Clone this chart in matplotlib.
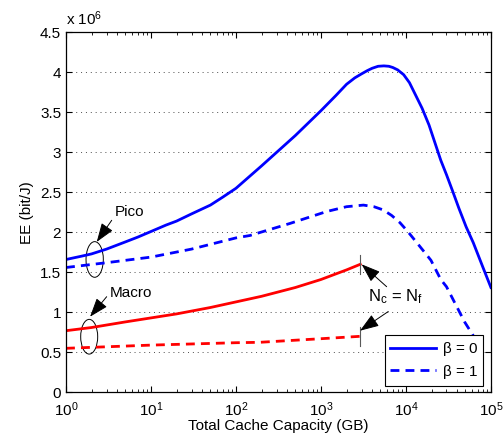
import numpy as np
import matplotlib
matplotlib.use('Agg')
import matplotlib.pyplot as plt
from matplotlib.patches import Ellipse

plt.rcParams['font.family'] = ['Liberation Sans', 'DejaVu Sans']
plt.rcParams['mathtext.fontset'] = 'custom'
plt.rcParams['mathtext.rm'] = 'Liberation Sans'
plt.rcParams['mathtext.it'] = 'Liberation Sans'
fs = 11

# EE values in units of 1e6 bit/J
pico_b0_x = [1, 1.5, 2, 3, 5, 7, 10, 15, 20, 30, 50, 70, 100, 200, 500, 1000, 1500,
             2000, 2500, 3000, 3500, 4000, 4700, 5500, 6300, 7000, 8000, 9400, 11000,
             13200, 15500, 18700, 25700, 30000, 35000, 42000, 51000, 62000, 80000, 100000]
pico_b0_y = [1.66, 1.70, 1.73, 1.79, 1.88, 1.94, 2.01, 2.09, 2.14, 2.23, 2.34, 2.44,
             2.55, 2.83, 3.21, 3.52, 3.71, 3.85, 3.93, 3.98, 4.02, 4.05, 4.075, 4.08,
             4.075, 4.06, 4.03, 3.97, 3.87, 3.70, 3.55, 3.34, 2.90, 2.72, 2.53, 2.30,
             2.07, 1.87, 1.57, 1.31]

pico_b1_x = [1, 3, 10, 30, 100, 146, 430, 1170, 2000, 3160, 4200, 5400, 6800, 8500,
             10500, 13200, 16000, 19700, 25700, 30000, 49000, 67000, 80000]
pico_b1_y = [1.56, 1.62, 1.69, 1.79, 1.93, 1.96, 2.11, 2.26, 2.32, 2.34, 2.32, 2.28,
             2.21, 2.12, 2.01, 1.88, 1.77, 1.65, 1.41, 1.32, 0.88, 0.65, 0.55]

macro_b0_x = [1, 2, 5, 10, 20, 50, 100, 200, 500, 1000, 2000, 2900]
macro_b0_y = [0.77, 0.81, 0.88, 0.93, 0.98, 1.06, 1.13, 1.20, 1.31, 1.41, 1.53, 1.60]

macro_b1_x = [1, 10, 100, 190, 1000, 2900]
macro_b1_y = [0.55, 0.59, 0.62, 0.625, 0.67, 0.70]

fig = plt.figure(figsize=(5.03, 4.41), dpi=100)
ax = fig.add_axes([0.1312, 0.1104, 0.8448, 0.8164])

dash = (0, (3.2, 2.2))
l1, = ax.plot(pico_b0_x, pico_b0_y, color='b', lw=2)
l2, = ax.plot(pico_b1_x, pico_b1_y, color='b', lw=2, ls=dash)
ax.plot(macro_b0_x, macro_b0_y, color='r', lw=2)
ax.plot(macro_b1_x, macro_b1_y, color='r', lw=2, ls=dash)

# N_c = N_f end markers
for xs, ys in [(macro_b0_x, macro_b0_y), (macro_b1_x, macro_b1_y)]:
    ax.plot([xs[-1], xs[-1]], [ys[-1] - 0.12, ys[-1] + 0.12], color='0.35', lw=0.8)

ax.set_xscale('log')
ax.set_xlim(1, 1e5)
ax.set_ylim(0, 4.5)
ax.set_yticks(np.arange(0, 4.51, 0.5))
ax.set_yticklabels(['0', '0.5', '1', '1.5', '2', '2.5', '3', '3.5', '4', '4.5'])
ax.set_xticks([1, 10, 100, 1000, 1e4, 1e5])
ax.set_xticklabels([r'10$^{%d}$' % i for i in range(6)])
ax.tick_params(which='both', direction='in', top=True, right=True, labelsize=fs)
ax.tick_params(axis='x', which='major', pad=6)
ax.tick_params(which='major', length=4)
ax.tick_params(which='minor', length=2)
ax.yaxis.grid(True, ls=(0, (1, 4)), color='0.3', lw=0.7)
ax.set_axisbelow(True)
for s in ax.spines.values():
    s.set_linewidth(0.9)

ax.set_xlabel('Total Cache Capacity (GB)', fontsize=fs, labelpad=0)
ax.set_ylabel('EE (bit/J)', fontsize=fs, labelpad=4)
ax.text(0.0, 1.012, r'x 10$^{6}$', transform=ax.transAxes, fontsize=fs,
        ha='left', va='bottom')

aprops = dict(arrowstyle='-|>,head_length=0.9,head_width=0.32', color='k',
              lw=0.7, mutation_scale=13, shrinkA=0, shrinkB=0)

# Pico / Macro
ax.add_patch(Ellipse((0.0675, 0.369), 0.0407, 0.099, transform=ax.transAxes,
                     fill=False, ec='k', lw=0.7))
ax.add_patch(Ellipse((0.0546, 0.1544), 0.040, 0.0964, transform=ax.transAxes,
                     fill=False, ec='k', lw=0.7))
ax.text(5.66, 2.25, 'Pico', fontsize=fs, ha='center', va='center')
ax.annotate('', xy=(2.30, 1.88), xytext=(3.45, 2.15), arrowprops=aprops)
ax.text(5.8, 1.245, 'Macro', fontsize=fs, ha='center', va='center')
ax.annotate('', xy=(1.92, 0.945), xytext=(3.01, 1.195), arrowprops=aprops)

ax.text(7600, 1.19, r'N$_\mathrm{c}$ = N$_\mathrm{f}$', fontsize=fs + 1,
        ha='center', va='center')
ax.annotate('', xy=(3010, 1.60), xytext=(5930, 1.32), arrowprops=aprops)
ax.annotate('', xy=(2880, 0.77), xytext=(6200, 1.01), arrowprops=aprops)

leg = ax.legend([l1, l2], [r'$\beta$ = 0', r'$\beta$ = 1'], loc='lower right',
                bbox_to_anchor=(0.982, 0.0175), borderaxespad=0, fontsize=fs,
                handlelength=3.0, fancybox=False, framealpha=1, edgecolor='k',
                borderpad=0.35, labelspacing=0.3, handletextpad=0.4)
leg.get_frame().set_linewidth(0.8)

fig.savefig('out.png', dpi=100)
